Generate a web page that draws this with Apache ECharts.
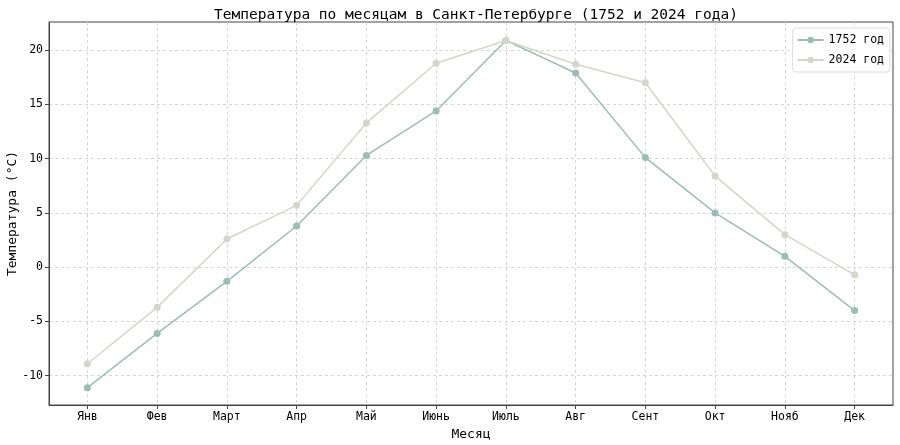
<!DOCTYPE html>
<html>
<head>
<meta charset="utf-8">
<script src="https://cdn.jsdelivr.net/npm/echarts@6/dist/echarts.min.js"></script>
<style>html,body{margin:0;padding:0;background:#fff}#c{width:900px;height:445px}</style>
</head>
<body>
<div id="c"></div>
<script>
const months = ['Янв','Фев','Март','Апр','Май','Июнь','Июль','Авг','Сент','Окт','Нояб','Дек'];
const temp1752 = [-11.1, -6.1, -1.3, 3.8, 10.3, 14.4, 20.9, 17.9, 10.1, 5.0, 1.0, -4.0];
const temp2024 = [-8.9, -3.7, 2.6, 5.7, 13.3, 18.8, 20.9, 18.7, 17.0, 8.4, 3.0, -0.7];
const yTicks = [-10, -5, 0, 5, 10, 15, 20];
const xTicks = months.map((m, i) => i);

const FONT = 'DejaVu Sans Mono';
const c1 = '#97bfb6', c2 = '#d3d6c8';
const chart = echarts.init(document.getElementById('c'), null, {renderer: 'canvas'});
const mk = (arr) => arr.map((v, i) => [i, v]);
chart.setOption({
  animation: false,
  textStyle: {fontFamily: FONT},
  title: {
    text: 'Температура по месяцам в Санкт-Петербурге (1752 и 2024 года)',
    left: 471, top: 3, textAlign: 'center',
    textStyle: {fontFamily: FONT, fontSize: 14.5, fontWeight: 'normal', color: '#000'}
  },
  legend: {
    right: 10, top: 28, orient: 'vertical',
    itemWidth: 26, itemHeight: 8, itemGap: 8,
    padding: [6, 6, 6, 4],
    borderColor: '#ddd', borderWidth: 1, borderRadius: 3,
    backgroundColor: 'rgba(255,255,255,0.85)',
    textStyle: {fontFamily: FONT, fontSize: 11.5, color: '#000'},
    data: ['1752 год', '2024 год']
  },
  grid: {left: 49, right: 7, top: 22, bottom: 40, show: true, borderColor: '#444', borderWidth: 1,
         containLabel: false, outerBoundsMode: 'none'},
  xAxis: {
    type: 'value', min: -0.55, max: 11.55,
    name: 'Месяц', nameLocation: 'middle', nameGap: 23, nameMoveOverlap: false,
    nameTextStyle: {fontFamily: FONT, fontSize: 13, color: '#000'},
    axisLine: {show: true, onZero: false, lineStyle: {color: '#444'}},
    axisTick: {show: true, length: 4, customValues: xTicks, lineStyle: {color: '#444'}},
    axisLabel: {customValues: xTicks, formatter: v => months[Math.round(v)], fontFamily: FONT, fontSize: 11.5, color: '#000', margin: 6},
    splitLine: {show: true, lineStyle: {color: '#cccccc', type: [3, 3], width: 0.8}}
  },
  yAxis: {
    type: 'value', min: -12.7, max: 22.6,
    name: 'Температура (°C)', nameLocation: 'middle', nameGap: 30, nameRotate: 90, nameMoveOverlap: false,
    nameTextStyle: {fontFamily: FONT, fontSize: 13, color: '#000'},
    axisLine: {show: true, onZero: false, lineStyle: {color: '#444'}},
    axisTick: {show: true, length: 4, customValues: yTicks, lineStyle: {color: '#444'}},
    axisLabel: {customValues: yTicks, fontFamily: FONT, fontSize: 11.5, color: '#000', margin: 6},
    splitLine: {show: true, lineStyle: {color: '#cccccc', type: [3, 3], width: 0.8}}
  },
  series: [
    {name: '1752 год', type: 'line', data: mk(temp1752), symbol: 'circle', symbolSize: 7,
     lineStyle: {color: c1, width: 1.5}, itemStyle: {color: c1}},
    {name: '2024 год', type: 'line', data: mk(temp2024), symbol: 'circle', symbolSize: 7,
     lineStyle: {color: c2, width: 1.5}, itemStyle: {color: c2}}
  ]
});
</script>
</body>
</html>
